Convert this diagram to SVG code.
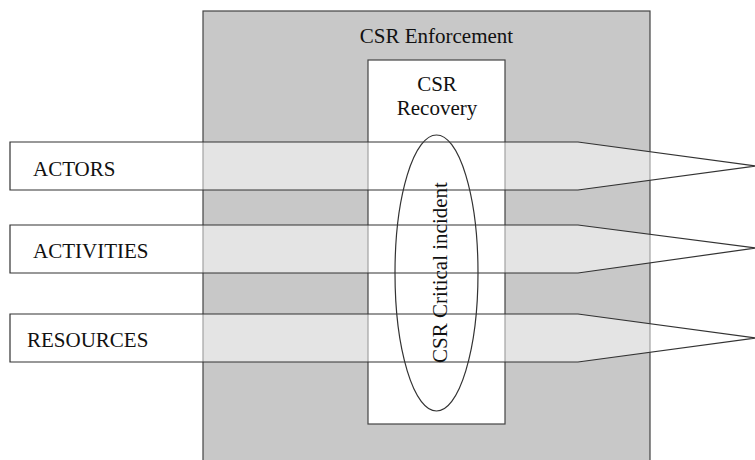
<svg xmlns="http://www.w3.org/2000/svg" width="755" height="460" viewBox="0 0 755 460">
<style>
text{font-family:"Liberation Serif","Times New Roman",serif;font-size:21px;fill:#111}
.band{fill:#ffffff;fill-opacity:0.5;stroke:#333;stroke-width:1.2}
.box{stroke:#444;stroke-width:1.2}
</style>
<rect width="755" height="460" fill="#ffffff"/>
<g id="enforcement">
<rect class="box" x="203" y="11" width="447" height="455" fill="#c8c8c8"/>
<text x="436.5" y="43" text-anchor="middle">CSR Enforcement</text>
</g>
<g id="recovery">
<rect class="box" x="368" y="60" width="137" height="364" fill="#ffffff"/>
<text x="437" y="91" text-anchor="middle">CSR</text>
<text x="437" y="115" text-anchor="middle">Recovery</text>
</g>
<g id="actors">
<polygon class="band" points="10,142 578,142 756,166 578,190 10,190"/>
<text x="33" y="176">ACTORS</text>
</g>
<g id="activities">
<polygon class="band" points="10,225 578,225 756,248 578,273 10,273"/>
<text x="33" y="258">ACTIVITIES</text>
</g>
<g id="resources">
<polygon class="band" points="10,314 578,314 756,338 578,362 10,362"/>
<text x="27" y="347">RESOURCES</text>
</g>
<g id="critical-incident">
<ellipse cx="436.5" cy="273" rx="41.5" ry="138" fill="none" stroke="#333" stroke-width="1.2"/>
<text transform="translate(447,272.5) rotate(-90)" text-anchor="middle">CSR Critical incident</text>
</g>
</svg>
